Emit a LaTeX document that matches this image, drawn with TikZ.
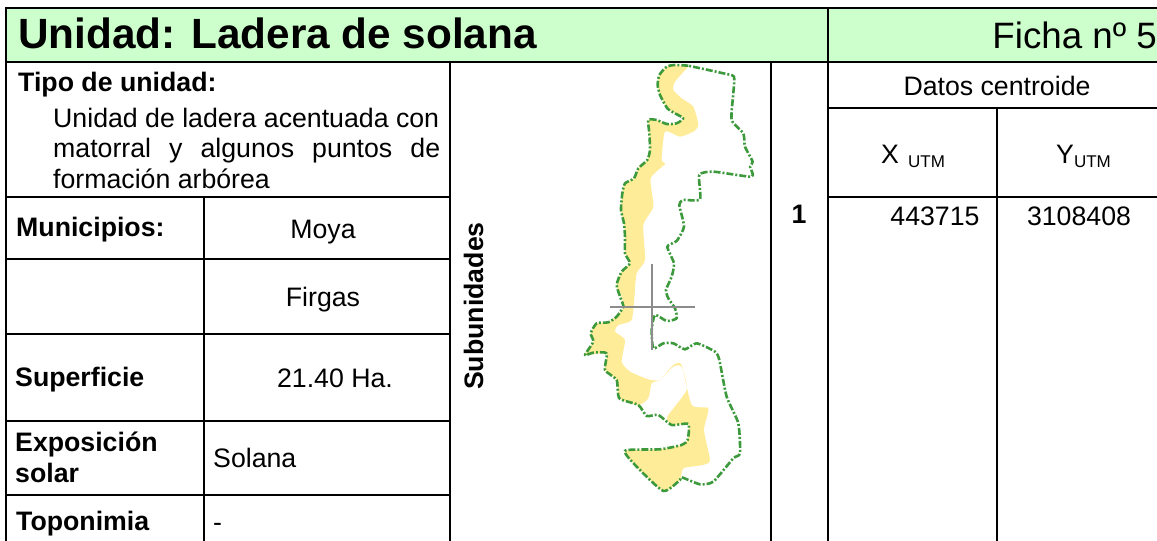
\documentclass[tikz,border=0pt]{standalone}
\usepackage{fontspec}
\setmainfont{Liberation Sans}
\definecolor{hdr}{HTML}{CCFFCC}
\definecolor{sand}{HTML}{FFEC99}
\definecolor{limit}{HTML}{3C9A3C}
\newcommand{\fs}[1]{\fontsize{#1}{#1}\selectfont}
\tikzset{
  rule/.style={line width=2pt,black},
  txt/.style={inner sep=0pt,anchor=base west,font=\fs{26.7}},
  ctr/.style={inner sep=0pt,anchor=base,font=\fs{26.7}},
  lbl/.style={inner sep=0pt,anchor=base west,font=\fs{26.7}\bfseries},
  boundary/.style={limit,line width=2.6pt,line join=round,dash pattern=on 7pt off 2pt on 2pt off 2pt},
  hair/.style={line width=1.2pt,black!45}
}
\begin{document}
\begin{tikzpicture}[x=1pt,y=-1pt]
\useasboundingbox[fill=white] (0,0) rectangle (1157,541);
% header band
\fill[hdr] (6,8) rectangle (1157,62);
% map
\begin{scope}[shift={(560,50)},x=0.3333pt,y=-0.3333pt]
\fill[sand,line join=round] plot[smooth,tension=0.35] coordinates {
(385,50)(345,95)(340,120)(365,145)(400,170)(415,225)(400,245)(360,260)(315,245)(305,330)(315,342)(272,385)(280,470)(250,525)(255,630)(230,670)(222,750)
(225,720)(215,810)(175,825)(165,845)(195,870)(185,935)(210,965)(265,988)(300,990)(340,945)(365,945)(395,1065)(445,1075)(432,1140)(450,1230)(430,1245)(370,1255)(360,1290)(310,1323)
(230,1250)(195,1202)(300,1198)(365,1185)(383,1170)(385,1122)(335,1125)(322,1100)(380,1020)(365,950)(340,950)(300,990)(275,1000)(265,1045)(235,1065)(178,1045)(170,990)(135,960)(140,910)(75,915)(100,875)(92,850)(110,820)(145,817)(190,775)(180,720)
(182,745)(170,705)(185,665)(210,640)(195,610)(195,560)(192,520)(183,480)(187,430)(195,400)(222,385)(235,355)(262,330)(270,300)(268,250)(265,210)(290,210)(320,222)(350,220)(370,205)(345,190)(322,175)(300,135)(293,105)(298,75)(320,50)(345,45)};
\draw[boundary] plot[smooth,tension=0.35] coordinates {
(385,47)(345,45)(320,50)(298,75)(293,105)(300,135)(322,175)(345,190)(370,205)(350,220)(320,222)(290,210)(265,210)(268,250)(270,300)(262,330)(235,355)(222,385)(195,400)(187,430)(183,480)(192,520)(195,560)(195,610)(210,640)(185,665)(170,705)(182,745)
(190,770)(170,800)(145,817)(110,820)(92,850)(100,875)(75,915)(100,908)(140,910)(135,960)(170,990)(178,1045)(235,1065)(260,1098)(295,1095)(335,1125)(385,1122)(383,1170)(365,1185)(300,1198)(195,1202)(230,1250)(310,1323)(360,1290)(365,1282)(420,1303)(460,1295)(520,1225)(540,1210)(535,1120)(500,1040)(478,930)(465,905)(410,880)(375,898)(340,880)(310,880)(280,895)(275,840)(285,795)(320,813)(350,805)(345,775)(325,745)
(318,720)(335,680)(342,640)(322,590)(350,573)(372,530)(358,465)(370,450)(420,448)(418,375)(460,365)(575,380)(570,350)(578,335)(555,290)(550,250)(515,210)(520,130)(522,80)(490,70)(385,47)};
\end{scope}
\coordinate (crossN) at (652,264);
\coordinate (crossS) at (652,350);
\coordinate (crossW) at (610,307);
\coordinate (crossE) at (695,307);
\draw[hair] (crossN) -- (crossS);
\draw[hair] (crossW) -- (crossE);
% table rules
\draw[rule] (6,541) -- (6,8) -- (1157,8);
\draw[rule] (6,62) -- (1157,62);
\draw[rule] (828,8) -- (828,541);
\draw[rule] (450,62) -- (450,541);
\draw[rule] (771,62) -- (771,541);
\draw[rule] (997,108) -- (997,541);
\draw[rule] (204,197) -- (204,541);
\draw[rule] (828,108) -- (1157,108);
\draw[rule] (828,197) -- (1157,197);
\draw[rule] (6,197) -- (450,197);
\draw[rule] (6,259) -- (450,259);
\draw[rule] (6,334) -- (450,334);
\draw[rule] (6,421) -- (450,421);
\draw[rule] (6,495) -- (450,495);
% texts
\node[inner sep=0pt,anchor=base west,font=\fs{42.3}\bfseries] (title) at (18,48) {Unidad: Ladera de solana};
\node[inner sep=0pt,anchor=base east,font=\fs{36.7}] (ficha) at (1157,48) {Ficha nº 5};
\node[lbl] (tipo) at (18,91) {Tipo de unidad:};
\node[txt] (d1) at (53,127) {Unidad de ladera acentuada con};
\node[txt] (d2) at (53,157) {\makebox[387pt][s]{matorral y algunos puntos de}};
\node[txt] (d3) at (53,188) {formación arbórea};
\node[lbl] (mun) at (16,236) {Municipios:};
\node[ctr] (moya) at (323,238) {Moya};
\node[ctr] (firgas) at (323,306) {Firgas};
\node[lbl] (sup) at (15,386) {Superficie};
\node[ctr] (ha) at (335,387) {21.40 Ha.};
\node[lbl] (exp1) at (15,451) {Exposición};
\node[lbl] (exp2) at (15,482) {solar};
\node[txt] (sol) at (213,467) {Solana};
\node[lbl] (top) at (16,530) {Toponimia};
\node[txt] (dash) at (213,531) {-};
\node[inner sep=0pt,anchor=base,rotate=90,font=\fs{26.7}\bfseries] (sub) at (483,306) {Subunidades};
\node[ctr,font=\fs{26.7}\bfseries] (one) at (799,223) {1};
\node[ctr] (datos) at (997,95) {Datos centroide};
\node[txt] (xu) at (881,163) {X\,\raisebox{-4pt}{\fs{17} UTM}};
\node[txt] (yu) at (1056,163) {Y\raisebox{-4pt}{\fs{17}UTM}};
\node[ctr] (xv) at (935,225) {443715};
\node[ctr] (yv) at (1079,225) {3108408};
\end{tikzpicture}
\end{document}
